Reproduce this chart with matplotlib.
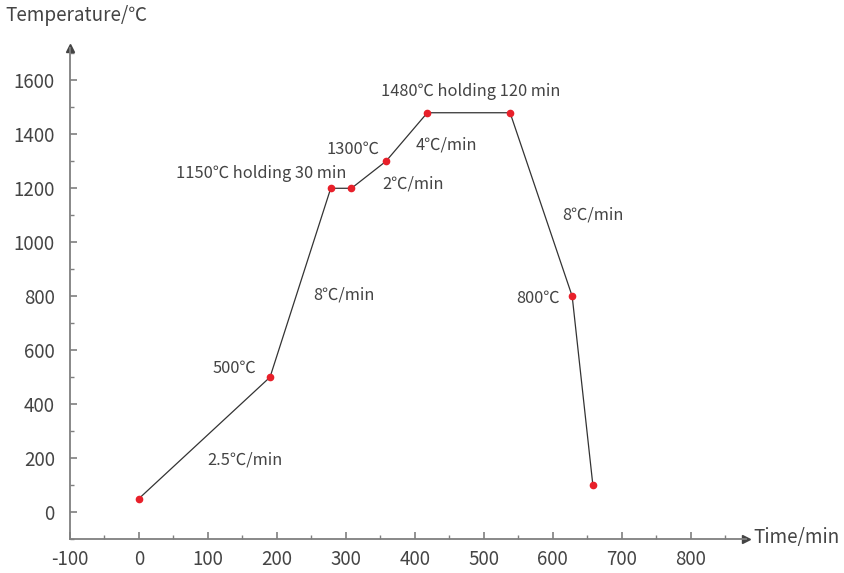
import matplotlib.pyplot as plt
from matplotlib.ticker import MultipleLocator

plt.rcParams['font.family'] = ['Noto Sans CJK SC', 'DejaVu Sans']
plt.rcParams['font.weight'] = 'light'
plt.rcParams['axes.unicode_minus'] = False

# heating schedule: time (min) vs temperature (deg C)
time = [0, 190, 278, 308, 358, 418, 538, 628, 658]
temp = [50, 500, 1200, 1200, 1300, 1480, 1480, 800, 100]

# annotations: text, x, y
notes = [
    ("1480℃ holding 120 min", 481, 1559),
    ("1300℃", 310, 1344),
    ("4℃/min", 445, 1359),
    ("2℃/min", 397, 1215),
    ("1150℃ holding 30 min", 177, 1256),
    ("8℃/min", 297, 804),
    ("500℃", 138, 533),
    ("2.5℃/min", 154, 193),
    ("8℃/min", 658, 1100),
    ("800℃", 579, 793),
]

xticks = list(range(-100, 801, 100))
yticks = list(range(0, 1601, 200))

axis_col = "#7f7f7f"
text_col = "#444444"

fig = plt.figure(figsize=(8.44, 5.73), dpi=100)
ax = fig.add_axes([70 / 844, 34 / 573, 676 / 844, 491 / 573])

ax.plot(time, temp, color="#333333", lw=0.9, zorder=2)
ax.plot(time, temp, "o", color="#e8202a", ms=4.5, zorder=3)

for txt, x, y in notes:
    ax.text(x, y, txt, ha="center", va="center", fontsize=11.8, color=text_col)

ax.set_xlim(-100, 880)
ax.set_ylim(-100, 1720)
ax.set_xticks(xticks)
ax.set_yticks(yticks)
ax.xaxis.set_minor_locator(MultipleLocator(50))
ax.yaxis.set_minor_locator(MultipleLocator(100))

for s in ["top", "right"]:
    ax.spines[s].set_visible(False)
for s in ["left", "bottom"]:
    ax.spines[s].set_color(axis_col)
    ax.spines[s].set_linewidth(1.3)

ax.tick_params(which="both", direction="in", color=axis_col, labelcolor=text_col, labelsize=13.5)
ax.tick_params(which="major", length=5, width=1.2)
ax.tick_params(which="minor", length=3, width=1.0)
ax.tick_params(axis="y", pad=11)
ax.tick_params(axis="x", pad=7)

# arrow heads at axis ends
ax.plot(1, 0, ">", transform=ax.transAxes, color="#444444", ms=6, clip_on=False)
ax.plot(0, 1, "^", transform=ax.transAxes, color="#444444", ms=6, clip_on=False)

fig.text(5 / 844, 1 - 15 / 573, "Temperature/℃", ha="left", va="center", fontsize=13.6, color=text_col)
fig.text(753 / 844, 1 - 538 / 573, "Time/min", ha="left", va="center", fontsize=13.6, color=text_col)

fig.savefig("out.png", dpi=100)
